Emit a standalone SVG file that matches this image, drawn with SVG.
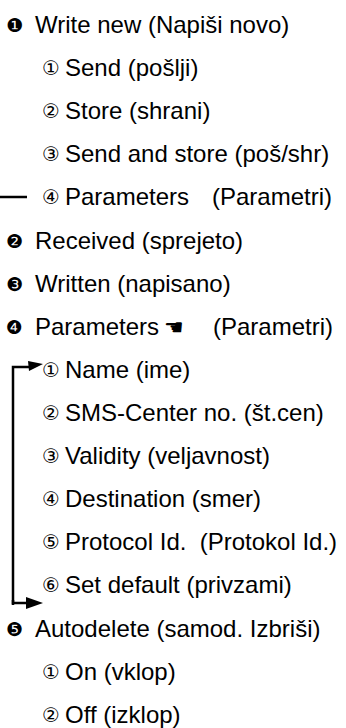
<svg xmlns="http://www.w3.org/2000/svg" width="346" height="728" viewBox="0 0 346 728">
<style>
text{font-family:"Liberation Sans",Arial,sans-serif;font-size:24px;fill:#000;white-space:pre}
.d{font-family:"DejaVu Sans",sans-serif;font-size:19px}
.n{font-family:"DejaVu Sans",sans-serif;font-size:20px}
.h{font-family:"DejaVu Sans",sans-serif;font-size:22px}
.c{stroke:#000;stroke-width:2.5;fill:none}
.a{fill:#000}
</style>
<g id="connectors">
<line class="c" x1="0" y1="197" x2="27" y2="197"/>
<path class="c" d="M13,605 V367 H30"/>
<polygon class="a" points="28,361 43,364 29,371"/>
<path class="c" d="M13,600 V603 H28"/>
<polygon class="a" points="26,597 43,603 26,609"/>
</g>
<g id="n1"><text class="d" x="6" y="32">❶</text><text x="35" y="33">Write new (Napiši novo)</text></g>
<g id="n1a"><text class="n" x="42" y="75">①</text><text x="65" y="76">Send (pošlji)</text></g>
<g id="n1b"><text class="n" x="42" y="118">②</text><text x="65" y="119">Store (shrani)</text></g>
<g id="n1c"><text class="n" x="42" y="161">③</text><text x="65" y="162">Send and store (poš/shr)</text></g>
<g id="n1d"><text class="n" x="42" y="204">④</text><text x="65" y="205">Parameters</text><text x="212" y="205">(Parametri)</text></g>
<g id="n2"><text class="d" x="6" y="248">❷</text><text x="35" y="249">Received (sprejeto)</text></g>
<g id="n3"><text class="d" x="6" y="291">❸</text><text x="35" y="292">Written (napisano)</text></g>
<g id="n4"><text class="d" x="6" y="334">❹</text><text x="35" y="335">Parameters</text><text class="h" x="164" y="335">☚</text><text x="213" y="335">(Parametri)</text></g>
<g id="n4a"><text class="n" x="42" y="377">①</text><text x="65" y="378">Name (ime)</text></g>
<g id="n4b"><text class="n" x="42" y="420">②</text><text x="65" y="421">SMS-Center no. (št.cen)</text></g>
<g id="n4c"><text class="n" x="42" y="463">③</text><text x="65" y="464">Validity (veljavnost)</text></g>
<g id="n4d"><text class="n" x="42" y="506">④</text><text x="65" y="507">Destination (smer)</text></g>
<g id="n4e"><text class="n" x="42" y="549">⑤</text><text x="65" y="550">Protocol Id.  (Protokol Id.)</text></g>
<g id="n4f"><text class="n" x="42" y="592">⑥</text><text x="65" y="593">Set default (privzami)</text></g>
<g id="n5"><text class="d" x="6" y="636">❺</text><text x="35" y="637">Autodelete (samod. Izbriši)</text></g>
<g id="n5a"><text class="n" x="42" y="679">①</text><text x="65" y="680">On (vklop)</text></g>
<g id="n5b"><text class="n" x="42" y="722">②</text><text x="65" y="723">Off (izklop)</text></g>
</svg>
